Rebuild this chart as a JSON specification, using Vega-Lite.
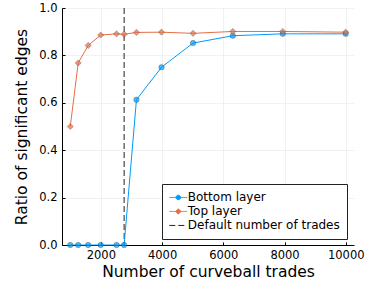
{
  "$schema": "https://vega.github.io/schema/vega-lite/v6.json",
  "autosize": {"type": "none"},
  "width": 292,
  "height": 237,
  "padding": {"left": 62, "top": 8, "right": 20, "bottom": 54},
  "background": "white",
  "config": {
    "view": {"stroke": null},
    "font": "DejaVu Sans",
    "axis": {
      "domainColor": "#000000",
      "domainWidth": 1,
      "gridColor": "#e8e8e8",
      "gridWidth": 0.6,
      "tickColor": "#000000",
      "tickSize": -3,
      "labelFont": "DejaVu Sans",
      "labelFontSize": 11.5,
      "labelColor": "#000000",
      "titleFont": "DejaVu Sans",
      "titleFontSize": 15.5,
      "titleFontWeight": "normal",
      "titleColor": "#000000"
    },
    "legend": {
      "title": null, "orient": "none", "legendX": 100, "legendY": 176,
      "padding": 6.8, "fillColor": "white", "strokeColor": "#222222",
      "symbolSize": 324, "symbolOpacity": 1, "symbolStrokeWidth": 1,
      "labelFont": "DejaVu Sans", "labelFontSize": 12, "labelColor": "#000000",
      "labelOffset": 0, "clipHeight": 13.3, "rowPadding": 0, "cornerRadius": 0
    }
  },
  "data": {
    "values": [
      {"x": 1000, "y": 0.0, "series": "Bottom layer"},
      {"x": 1259, "y": 0.0, "series": "Bottom layer"},
      {"x": 1585, "y": 0.0, "series": "Bottom layer"},
      {"x": 1995, "y": 0.0, "series": "Bottom layer"},
      {"x": 2512, "y": 0.0, "series": "Bottom layer"},
      {"x": 2760, "y": 0.0, "series": "Bottom layer"},
      {"x": 3162, "y": 0.613, "series": "Bottom layer"},
      {"x": 3981, "y": 0.75, "series": "Bottom layer"},
      {"x": 5012, "y": 0.852, "series": "Bottom layer"},
      {"x": 6310, "y": 0.883, "series": "Bottom layer"},
      {"x": 7943, "y": 0.891, "series": "Bottom layer"},
      {"x": 10000, "y": 0.891, "series": "Bottom layer"},
      {"x": 1000, "y": 0.5, "series": "Top layer"},
      {"x": 1259, "y": 0.768, "series": "Top layer"},
      {"x": 1585, "y": 0.842, "series": "Top layer"},
      {"x": 1995, "y": 0.886, "series": "Top layer"},
      {"x": 2512, "y": 0.891, "series": "Top layer"},
      {"x": 2760, "y": 0.889, "series": "Top layer"},
      {"x": 3162, "y": 0.897, "series": "Top layer"},
      {"x": 3981, "y": 0.898, "series": "Top layer"},
      {"x": 5012, "y": 0.893, "series": "Top layer"},
      {"x": 6310, "y": 0.901, "series": "Top layer"},
      {"x": 7943, "y": 0.901, "series": "Top layer"},
      {"x": 10000, "y": 0.898, "series": "Top layer"},
      {"x": 2760, "series": "Default number of trades"}
    ]
  },
  "encoding": {
    "x": {
      "field": "x", "type": "quantitative",
      "scale": {"domain": [730, 10270], "nice": false, "zero": false},
      "axis": {"values": [2000, 4000, 6000, 8000, 10000], "format": "d", "title": "Number of curveball trades", "labelPadding": 7, "titlePadding": 4, "grid": true}
    },
    "y": {
      "field": "y", "type": "quantitative",
      "scale": {"domain": [0, 1], "nice": false},
      "axis": {"values": [0, 0.2, 0.4, 0.6, 0.8, 1.0], "format": ".1f", "title": "Ratio of significant edges", "labelPadding": 8, "titlePadding": 9, "grid": true}
    }
  },
  "layer": [
    {
      "transform": [{"filter": "datum.series !== 'Default number of trades'"}],
      "mark": {"type": "point", "opacity": 0, "filled": true},
      "encoding": {
        "fill": {
          "field": "series", "type": "nominal",
          "scale": {"domain": ["Bottom layer", "Top layer", "Default number of trades"], "range": ["#009AFA", "#E36F47", "#222222"]}
        },
        "stroke": {
          "field": "series", "type": "nominal",
          "scale": {"domain": ["Bottom layer", "Top layer", "Default number of trades"], "range": ["#009AFA", "#E36F47", "#222222"]}
        },
        "shape": {
          "field": "series", "type": "nominal",
          "scale": {"domain": ["Bottom layer", "Top layer", "Default number of trades"], "range": [
            "M-1,0H1M-0.25,0A0.25,0.25,0,1,0,0.25,0A0.25,0.25,0,1,0,-0.25,0Z",
            "M-1,0H1M0,-0.3L0.3,0L0,0.3L-0.3,0Z",
            "M-1,0H1"
          ]}
        },
        "strokeDash": {
          "field": "series", "type": "nominal",
          "scale": {"domain": ["Bottom layer", "Top layer", "Default number of trades"], "range": [[1, 0], [1, 0], [6, 3]]}
        }
      }
    },
    {
      "transform": [{"filter": "datum.series === 'Default number of trades'"}],
      "mark": {"type": "rule", "color": "#222222", "strokeWidth": 1, "strokeDash": [6, 3]},
      "encoding": {"y": {"value": 0}, "y2": {"value": 237}}
    },
    {
      "transform": [{"filter": "datum.series === 'Bottom layer'"}],
      "mark": {"type": "line", "color": "#009AFA", "strokeWidth": 1},
      "encoding": {}
    },
    {
      "transform": [{"filter": "datum.series === 'Top layer'"}],
      "mark": {"type": "line", "color": "#E36F47", "strokeWidth": 1},
      "encoding": {}
    },
    {
      "transform": [{"filter": "datum.series === 'Bottom layer'"}],
      "mark": {"type": "point", "shape": "circle", "filled": true, "fill": "#009AFA", "fillOpacity": 0.7, "stroke": "#333333", "strokeWidth": 0.5, "strokeOpacity": 0.6, "size": 30},
      "encoding": {}
    },
    {
      "transform": [{"filter": "datum.series === 'Top layer'"}],
      "mark": {"type": "point", "shape": "diamond", "filled": true, "fill": "#E36F47", "fillOpacity": 0.7, "stroke": "#333333", "strokeWidth": 0.5, "strokeOpacity": 0.6, "size": 38},
      "encoding": {}
    }
  ]
}
